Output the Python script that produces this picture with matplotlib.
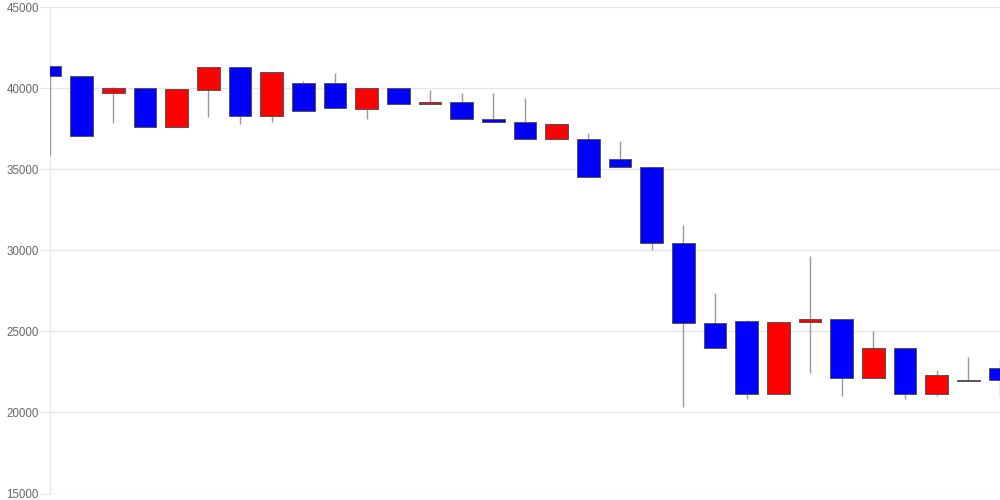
import numpy as np
import matplotlib.pyplot as plt
import matplotlib.ticker as ticker

# daily candles, left to right (red = up, blue = down)
opens = [41360, 40760, 39700, 40000, 37580, 39900, 41280, 38300, 40310, 40310,
         38730, 40000, 39040, 39120, 38110, 37910, 36880, 36840, 35610, 35150,
         30430, 25500, 25620, 21120, 25560, 25750, 22150, 23980, 21140, 21920,
         22730]
closes = [40750, 37050, 40000, 37580, 39920, 41280, 38300, 40990, 38570, 38750,
          40000, 39040, 39120, 38080, 37890, 36880, 37770, 34500, 35120, 30430,
          25500, 23960, 21120, 25560, 25750, 22150, 23980, 21140, 22290, 22000,
          22000]
highs = [41360, 40760, 40060, 40000, 39920, 41280, 41280, 40990, 40440, 40960,
         40000, 40000, 39880, 39700, 39700, 39390, 37770, 37250, 36720, 35150,
         31540, 27350, 25700, 25600, 29650, 25750, 25040, 23980, 22620, 23420,
         23280]
lows = [35880, 37050, 37850, 37580, 37580, 38240, 37800, 37890, 38570, 38750,
        38110, 39040, 39040, 38080, 37890, 36880, 36800, 34500, 35120, 30020,
        20320, 23960, 20820, 21120, 22460, 21020, 22100, 20850, 21040, 21920,
        20980]

x = np.arange(len(opens))
o = np.array(opens)
c = np.array(closes)
up = c >= o
colors = np.where(up, '#ff0000', '#0000ff')
bottoms = np.minimum(o, c)
heights = np.maximum(np.abs(c - o), 40)

fig = plt.figure(figsize=(10, 5), dpi=100)
ax = fig.add_axes([0.05, 0.013, 0.95, 0.973])

# wicks behind the bodies (but above the left spine)
ax.vlines(x, lows, highs, color='#999999', linewidth=1, zorder=2.6)
ax.bar(x, heights, 0.72, bottom=bottoms, color=colors, edgecolor='#555555',
       linewidth=0.7, zorder=3)

ax.set_xlim(0, len(opens) - 1)
ax.set_ylim(15000, 45000)
ax.yaxis.set_major_locator(ticker.MultipleLocator(5000))
ax.set_xticks([])

ax.grid(axis='y', color='#e6e6e6', linewidth=1, zorder=0)
ax.set_axisbelow(True)
for s in ['top', 'right', 'bottom']:
    ax.spines[s].set_visible(False)
ax.spines['left'].set_color('#e6e6e6')
ax.tick_params(axis='y', length=7.2, color='#e6e6e6', labelcolor='#666666',
               labelsize=8.3, pad=0.8)
for lab in ax.get_yticklabels():
    lab.set_fontfamily('Liberation Sans')

fig.savefig('out.png', dpi=100)
